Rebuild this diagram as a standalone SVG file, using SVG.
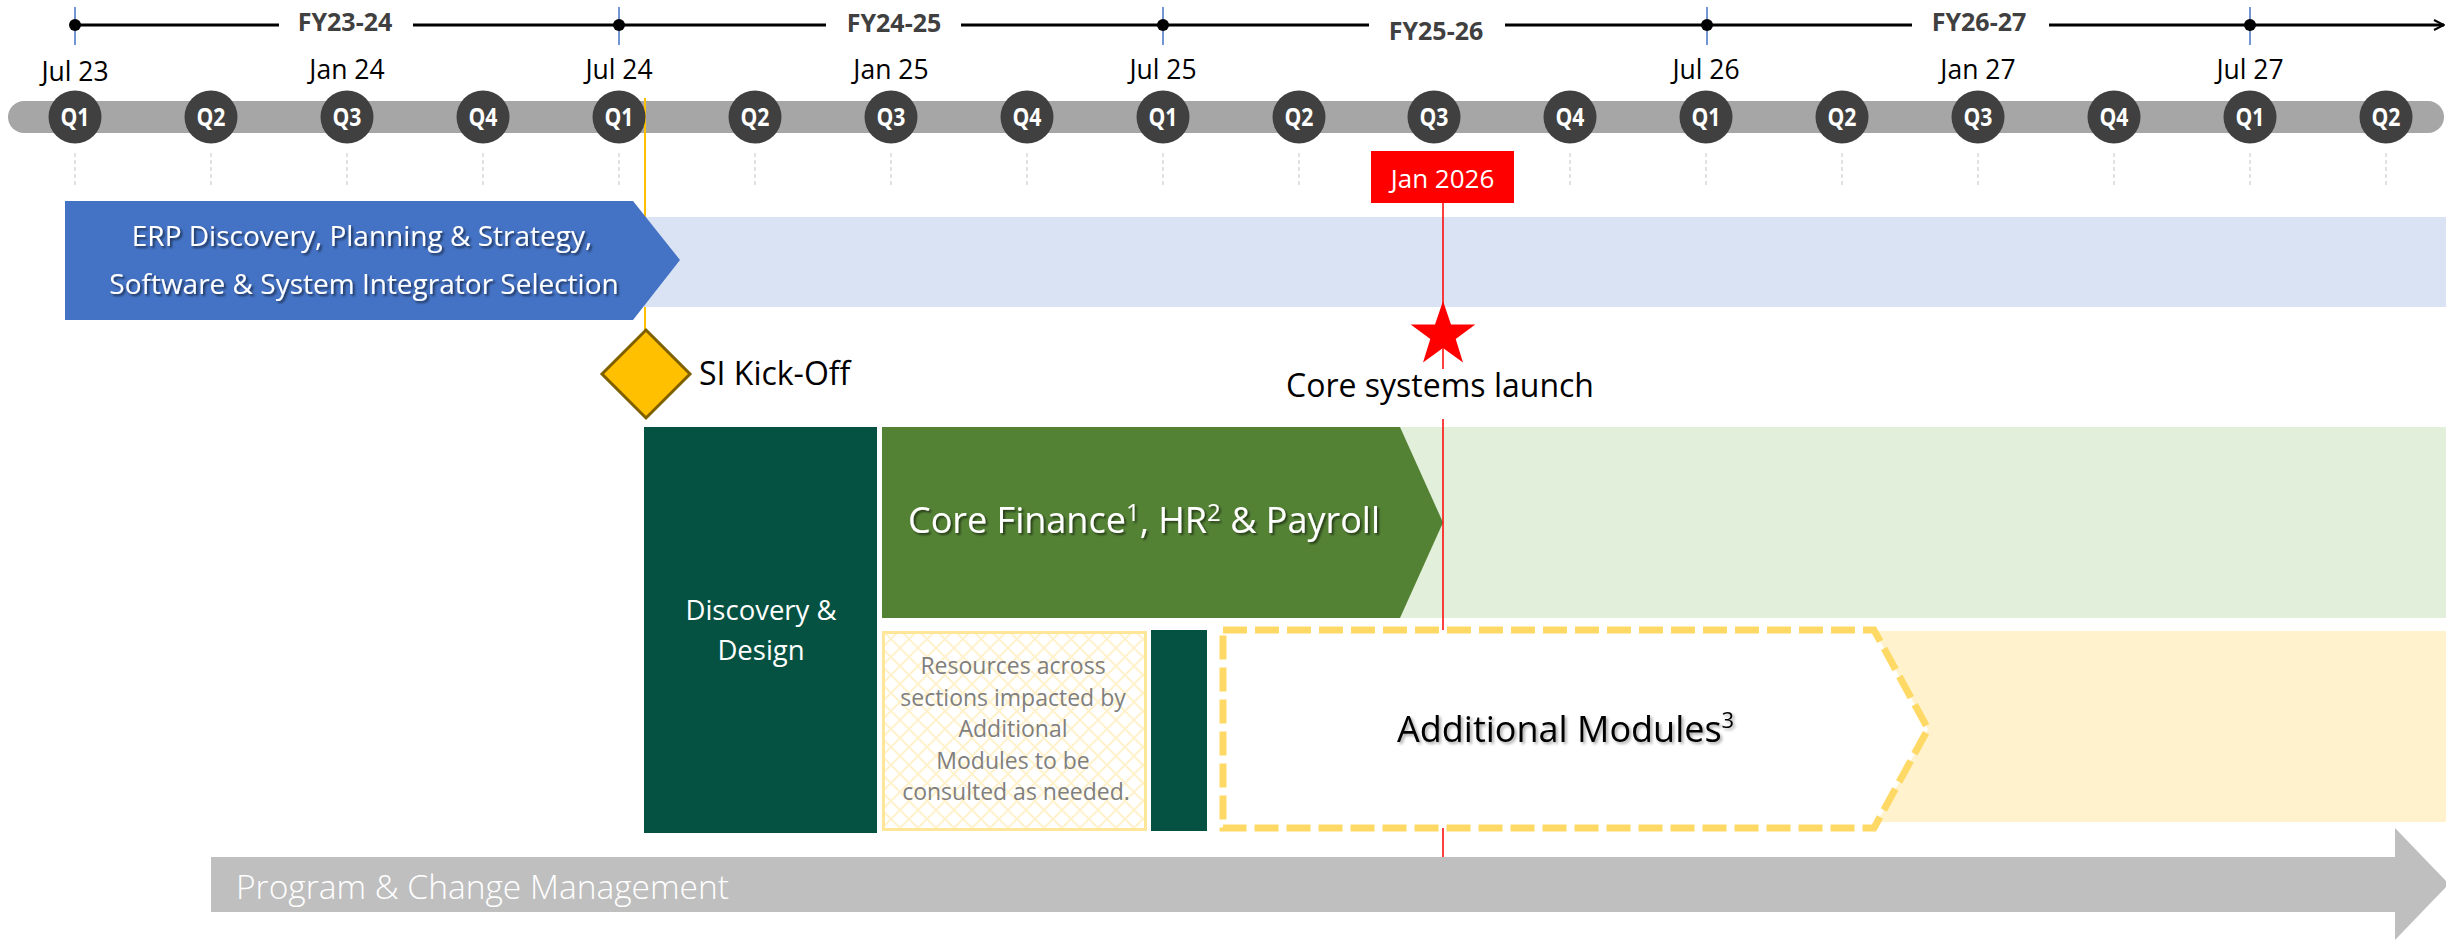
<svg xmlns="http://www.w3.org/2000/svg" width="2446" height="941" viewBox="0 0 2446 941">
<defs>
<style>
text{font-family:"Open Sans","Liberation Sans",sans-serif}
.fy{font-weight:700;font-size:25px;fill:#404040;text-anchor:middle}
.mo{font-size:26.5px;fill:#000;text-anchor:middle}
.qc{fill:#404040}
.q{font-weight:700;font-size:25px;fill:#fff;text-anchor:middle}
.tick{stroke:#D9D9D9;stroke-width:1.5;stroke-dasharray:4 3}
.yt{stroke:#4472C4;stroke-width:1.5}
.dot{fill:#000}
.wt{fill:#fff}
.dkg{fill:#065242}
</style>
<filter id="sh" x="-5%" y="-30%" width="110%" height="160%">
<feDropShadow dx="2" dy="2" stdDeviation="1.3" flood-color="#000" flood-opacity="0.55"/>
</filter>
<filter id="shk" x="-5%" y="-30%" width="110%" height="160%">
<feDropShadow dx="2" dy="2" stdDeviation="1.5" flood-color="#000" flood-opacity="0.35"/>
</filter>
<pattern id="hatch" width="18" height="18" patternUnits="userSpaceOnUse">
<path d="M0 18 L18 0 M0 0 L18 18" stroke="#FFF2CC" stroke-width="2" fill="none"/>
</pattern>
<marker id="arr" viewBox="0 0 12 12" refX="11" refY="6" markerWidth="12" markerHeight="12" markerUnits="userSpaceOnUse" orient="auto">
<path d="M1 1 L11 6 L1 11" fill="none" stroke="#000" stroke-width="2"/>
</marker>
</defs>
<rect width="2446" height="941" fill="#fff"/>

<g id="fiscal-axis">
<line class="yt" x1="75" y1="7" x2="75" y2="45"/>
<line class="yt" x1="619" y1="7" x2="619" y2="45"/>
<line class="yt" x1="1163" y1="7" x2="1163" y2="45"/>
<line class="yt" x1="1707" y1="7" x2="1707" y2="45"/>
<line class="yt" x1="2250" y1="7" x2="2250" y2="45"/>
<line x1="75" y1="25" x2="2444" y2="25" stroke="#000" stroke-width="3" marker-end="url(#arr)"/>
<rect x="279" y="10" width="134" height="30" class="wt"/>
<rect x="826" y="10" width="135" height="30" class="wt"/>
<rect x="1369" y="10" width="136" height="30" class="wt"/>
<rect x="1912" y="10" width="137" height="30" class="wt"/>
<circle class="dot" cx="75" cy="25" r="6"/>
<circle class="dot" cx="619" cy="25" r="6"/>
<circle class="dot" cx="1163" cy="25" r="6"/>
<circle class="dot" cx="1707" cy="25" r="6"/>
<circle class="dot" cx="2250" cy="25" r="6"/>
<text class="fy" x="345" y="31">FY23-24</text>
<text class="fy" x="894" y="32">FY24-25</text>
<text class="fy" x="1436" y="40">FY25-26</text>
<text class="fy" x="1979" y="31">FY26-27</text>
</g>

<g id="month-labels">
<text class="mo" x="75" y="81">Jul 23</text>
<text class="mo" x="347" y="79">Jan 24</text>
<text class="mo" x="619" y="79">Jul 24</text>
<text class="mo" x="891" y="79">Jan 25</text>
<text class="mo" x="1163" y="79">Jul 25</text>
<text class="mo" x="1706" y="79">Jul 26</text>
<text class="mo" x="1978" y="79">Jan 27</text>
<text class="mo" x="2250" y="79">Jul 27</text>
</g>

<g id="quarter-bar">
<rect x="8" y="101" width="2436" height="32" rx="16" fill="#A6A6A6"/>
<g>
<line class="tick" x1="75" y1="153" x2="75" y2="188"/>
<line class="tick" x1="211" y1="153" x2="211" y2="188"/>
<line class="tick" x1="347" y1="153" x2="347" y2="188"/>
<line class="tick" x1="483" y1="153" x2="483" y2="188"/>
<line class="tick" x1="619" y1="153" x2="619" y2="188"/>
<line class="tick" x1="755" y1="153" x2="755" y2="188"/>
<line class="tick" x1="891" y1="153" x2="891" y2="188"/>
<line class="tick" x1="1027" y1="153" x2="1027" y2="188"/>
<line class="tick" x1="1163" y1="153" x2="1163" y2="188"/>
<line class="tick" x1="1299" y1="153" x2="1299" y2="188"/>
<line class="tick" x1="1434" y1="153" x2="1434" y2="188"/>
<line class="tick" x1="1570" y1="153" x2="1570" y2="188"/>
<line class="tick" x1="1706" y1="153" x2="1706" y2="188"/>
<line class="tick" x1="1842" y1="153" x2="1842" y2="188"/>
<line class="tick" x1="1978" y1="153" x2="1978" y2="188"/>
<line class="tick" x1="2114" y1="153" x2="2114" y2="188"/>
<line class="tick" x1="2250" y1="153" x2="2250" y2="188"/>
<line class="tick" x1="2386" y1="153" x2="2386" y2="188"/>
</g>
</g>

<g id="connectors">
<line id="kickoff-line" x1="645" y1="98" x2="645" y2="332" stroke="#FFC000" stroke-width="2"/>
</g>

<g id="quarters">
<circle class="qc" cx="75" cy="117" r="26.5"/><text class="q" x="75" y="126" textLength="29" lengthAdjust="spacingAndGlyphs">Q1</text>
<circle class="qc" cx="211" cy="117" r="26.5"/><text class="q" x="211" y="126" textLength="29" lengthAdjust="spacingAndGlyphs">Q2</text>
<circle class="qc" cx="347" cy="117" r="26.5"/><text class="q" x="347" y="126" textLength="29" lengthAdjust="spacingAndGlyphs">Q3</text>
<circle class="qc" cx="483" cy="117" r="26.5"/><text class="q" x="483" y="126" textLength="29" lengthAdjust="spacingAndGlyphs">Q4</text>
<circle class="qc" cx="619" cy="117" r="26.5"/><text class="q" x="619" y="126" textLength="29" lengthAdjust="spacingAndGlyphs">Q1</text>
<circle class="qc" cx="755" cy="117" r="26.5"/><text class="q" x="755" y="126" textLength="29" lengthAdjust="spacingAndGlyphs">Q2</text>
<circle class="qc" cx="891" cy="117" r="26.5"/><text class="q" x="891" y="126" textLength="29" lengthAdjust="spacingAndGlyphs">Q3</text>
<circle class="qc" cx="1027" cy="117" r="26.5"/><text class="q" x="1027" y="126" textLength="29" lengthAdjust="spacingAndGlyphs">Q4</text>
<circle class="qc" cx="1163" cy="117" r="26.5"/><text class="q" x="1163" y="126" textLength="29" lengthAdjust="spacingAndGlyphs">Q1</text>
<circle class="qc" cx="1299" cy="117" r="26.5"/><text class="q" x="1299" y="126" textLength="29" lengthAdjust="spacingAndGlyphs">Q2</text>
<circle class="qc" cx="1434" cy="117" r="26.5"/><text class="q" x="1434" y="126" textLength="29" lengthAdjust="spacingAndGlyphs">Q3</text>
<circle class="qc" cx="1570" cy="117" r="26.5"/><text class="q" x="1570" y="126" textLength="29" lengthAdjust="spacingAndGlyphs">Q4</text>
<circle class="qc" cx="1706" cy="117" r="26.5"/><text class="q" x="1706" y="126" textLength="29" lengthAdjust="spacingAndGlyphs">Q1</text>
<circle class="qc" cx="1842" cy="117" r="26.5"/><text class="q" x="1842" y="126" textLength="29" lengthAdjust="spacingAndGlyphs">Q2</text>
<circle class="qc" cx="1978" cy="117" r="26.5"/><text class="q" x="1978" y="126" textLength="29" lengthAdjust="spacingAndGlyphs">Q3</text>
<circle class="qc" cx="2114" cy="117" r="26.5"/><text class="q" x="2114" y="126" textLength="29" lengthAdjust="spacingAndGlyphs">Q4</text>
<circle class="qc" cx="2250" cy="117" r="26.5"/><text class="q" x="2250" y="126" textLength="29" lengthAdjust="spacingAndGlyphs">Q1</text>
<circle class="qc" cx="2386" cy="117" r="26.5"/><text class="q" x="2386" y="126" textLength="29" lengthAdjust="spacingAndGlyphs">Q2</text>
</g>

<g id="erp-discovery">
<rect x="600" y="217" width="1846" height="90" fill="#DAE3F3"/>
<polygon points="65,201 633,201 680,260 633,320 65,320" fill="#4472C4"/>
<text x="362" y="246" font-size="28" fill="#fff" text-anchor="middle" filter="url(#sh)">ERP Discovery, Planning &amp; Strategy,</text>
<text x="364" y="294" font-size="28" fill="#fff" text-anchor="middle" filter="url(#sh)">Software &amp; System Integrator Selection</text>
</g>

<g id="core-finance">
<rect x="1380" y="427" width="1066" height="191" fill="#E2EFDA"/>
<polygon points="882,427 1400,427 1443,522.5 1400,618 882,618" fill="#548235"/>
<text x="908" y="533" font-size="36" fill="#fff" filter="url(#sh)">Core Finance<tspan dy="-12" font-size="24">1</tspan><tspan dy="12">, HR</tspan><tspan dy="-12" font-size="24">2</tspan><tspan dy="12"> &amp; Payroll</tspan></text>
</g>

<g id="connectors-launch">
<line id="launch-line" x1="1443" y1="203" x2="1443" y2="860" stroke="#FF0000" stroke-width="1.5"/>
</g>

<g id="jan-2026">
<rect x="1371" y="151" width="143" height="52" fill="#FF0000"/>
<text x="1442.5" y="188" font-size="26" fill="#fff" text-anchor="middle">Jan 2026</text>
</g>

<g id="core-launch">
<polygon points="1443,301 1451,324.5 1475.3,324.5 1455.7,339 1463,362.5 1443,348 1423,362.5 1430.3,339 1410.7,324.5 1435,324.5" fill="#FF0000"/>
<rect x="1285" y="369" width="312" height="50" class="wt"/>
<text x="1440" y="397" font-size="32" fill="#000" text-anchor="middle">Core systems launch</text>
</g>

<g id="si-kickoff">
<polygon points="646,330 690,374 646,418 602,374" fill="#FFC000" stroke="#7F6000" stroke-width="3"/>
<text x="699" y="385" font-size="32" fill="#000">SI Kick-Off</text>
</g>

<g id="discovery-design">
<rect x="644" y="427" width="233" height="406" class="dkg"/>
<text x="761" y="620" font-size="27.5" fill="#fff" text-anchor="middle">Discovery &amp;</text>
<text x="761" y="660" font-size="27.5" fill="#fff" text-anchor="middle">Design</text>
</g>

<g id="resources">
<rect x="883.5" y="632.5" width="262" height="197" fill="url(#hatch)" stroke="#FFE699" stroke-width="3"/>
<text font-size="23" fill="#7F7F7F" text-anchor="middle">
<tspan x="1016" y="674">Resources across</tspan>
<tspan x="1016" y="706">sections impacted by</tspan>
<tspan x="1016" y="737">Additional</tspan>
<tspan x="1016" y="769">Modules to be</tspan>
<tspan x="1016" y="800">consulted as needed.</tspan>
</text>
</g>

<g id="transition-block">
<rect x="1151" y="630" width="56" height="201" class="dkg"/>
</g>

<g id="additional-modules">
<rect x="1800" y="631" width="646" height="191" fill="#FFF2CC"/>
<polygon points="1223,630 1874,630 1928,729 1874,828 1223,828" fill="#fff" stroke="#FFD966" stroke-width="7" stroke-dasharray="24 8"/>
<text x="1397" y="742" font-size="36" fill="#000" filter="url(#shk)">Additional Modules<tspan dy="-14" font-size="22">3</tspan></text>
</g>

<g id="program-change">
<polygon points="211,857 2395,857 2395,828 2449,884 2395,940 2395,912 211,912" fill="#BFBFBF"/>
<text x="236" y="899" font-size="33.5" font-weight="300" fill="#fff">Program &amp; Change Management</text>
</g>
</svg>
